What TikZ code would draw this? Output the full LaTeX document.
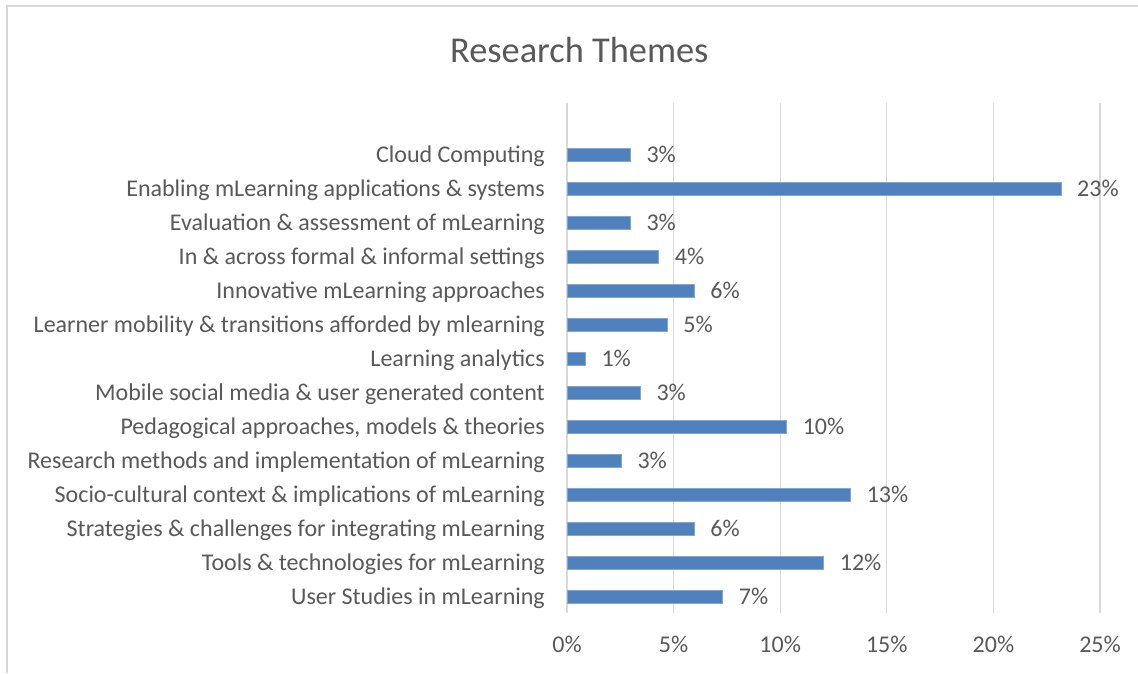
\documentclass[tikz,border=0pt]{standalone}
\usepackage{fontspec}
\setmainfont{Carlito}
\definecolor{txt}{HTML}{595959}
\definecolor{gridc}{HTML}{D9D9D9}
\definecolor{barc}{HTML}{4F81BD}
\tikzset{
  lbl/.style={text=txt, font=\fontsize{24}{28}\selectfont, inner sep=0pt},
  barbox/.style={fill=barc, draw=barc!70!white, line width=0.6pt},
  gridline/.style={draw=gridc, line width=1.1pt},
}
\begin{document}
\begin{tikzpicture}[x=1pt,y=-1pt]
\useasboundingbox (0,0) rectangle (1138,673);
\fill[white] (0,0) rectangle (1138,673);
\draw[gridc, line width=1.6pt] (7,673) -- (7,6) -- (1138,6);
\node[lbl, font=\fontsize{36.4}{40}\selectfont, anchor=base] (title) at (579.3,62) {Research Themes};
\foreach \k in {0,...,5}{
  \draw[gridline] ({567+106.6*\k},103) -- ({567+106.6*\k},613);
  \pgfmathtruncatemacro{\pc}{5*\k}
  \node[lbl, anchor=base] (ax\k) at ({567+106.6*\k},652) {\pc\%};
}
\foreach \i/\v/\lab/\pct in {
  0/2.97/{Cloud Computing}/3,
  1/23.17/{Enabling mLearning applications \& systems}/23,
  2/2.97/{Evaluation \& assessment of mLearning}/3,
  3/4.30/{In \& across formal \& informal settings}/4,
  4/5.97/{Innovative mLearning approaches}/6,
  5/4.70/{Learner mobility \& transitions afforded by mlearning}/5,
  6/0.86/{Learning analytics}/1,
  7/3.44/{Mobile social media \& user generated content}/3,
  8/10.30/{Pedagogical approaches, models \& theories}/10,
  9/2.55/{Research methods and implementation of mLearning}/3,
  10/13.30/{Socio-cultural context \& implications of mLearning}/13,
  11/5.97/{Strategies \& challenges for integrating mLearning}/6,
  12/12.04/{Tools \& technologies for mLearning}/12,
  13/7.30/{User Studies in mLearning}/7}{
  \pgfmathsetmacro{\yc}{155+33.98*\i}
  \pgfmathsetmacro{\xe}{567+21.32*\v}
  \path[barbox] (567,\yc-6.3) rectangle (\xe,\yc+6.3);
  \node[lbl, anchor=base east] (cat\i) at (545,\yc+7.8) {\lab};
  \node[lbl, anchor=base west] (val\i) at (\xe+16,\yc+7.8) {\pct\%};
}
\end{tikzpicture}
\end{document}
